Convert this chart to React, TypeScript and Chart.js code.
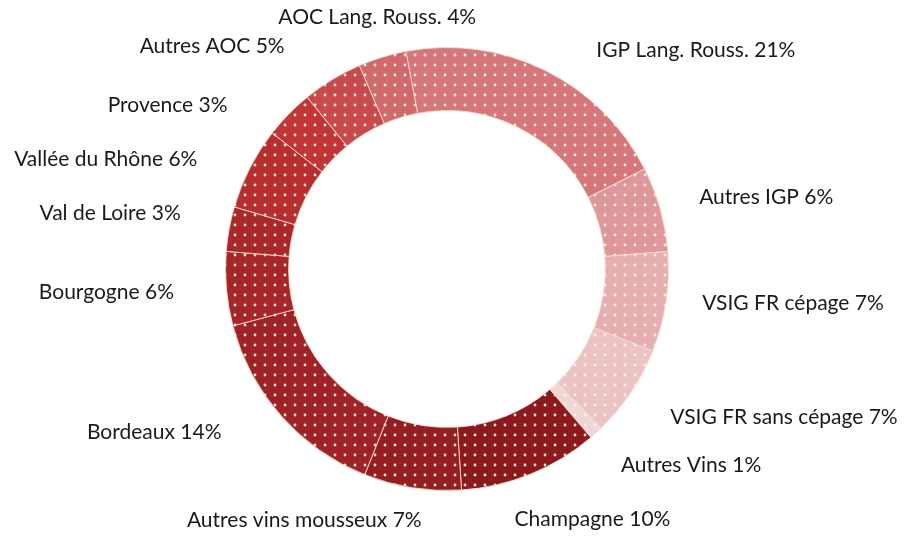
import React, { useEffect, useRef } from "react";
import { Chart, registerables } from "chart.js";

Chart.register(...registerables);

const categories = [
  "IGP Lang. Rouss.",
  "Autres IGP",
  "VSIG FR cépage",
  "VSIG FR sans cépage",
  "Autres Vins",
  "Champagne",
  "Autres vins mousseux",
  "Bordeaux",
  "Bourgogne",
  "Val de Loire",
  "Vallée du Rhône",
  "Provence",
  "Autres AOC",
  "AOC Lang. Rouss.",
];

// Shares as measured from the ring geometry
const shares = [20.5, 6.2, 7.3, 6.7, 1.0, 10.2, 7.1, 14.8, 5.4, 3.25, 6.0, 3.6, 4.4, 3.5];

// Percentages printed in the labels
const labelPercents = [21, 6, 7, 7, 1, 10, 7, 14, 6, 3, 6, 3, 5, 4];

const colors = [
  "#d6777c",
  "#de979b",
  "#e5aeb1",
  "#ebc3c5",
  "#f0d6d6",
  "#8c1a1c",
  "#951e20",
  "#9f2326",
  "#a72629",
  "#ab282a",
  "#b72e2f",
  "#c13536",
  "#c84a4c",
  "#d06a6e",
];

// label text centre offsets from the outer mid-point of each slice (px)
const labelOffsets: [number, number][] = [
  [151, -20],
  [106, -12],
  [127, 1],
  [153, 25],
  [95, 32],
  [62, 45],
  [-108, 32],
  [-127, 16],
  [-120, 3],
  [-119, -16],
  [-144, -9],
  [-121, -9],
  [-120, -33],
  [-5, -40],
];

function makePattern(color: string): CanvasPattern | string {
  const c = document.createElement("canvas");
  const s = 10;
  c.width = s;
  c.height = s;
  const g = c.getContext("2d");
  if (!g) return color;
  g.fillStyle = color;
  g.fillRect(0, 0, s, s);
  g.fillStyle = "rgba(255,246,225,0.95)";
  g.beginPath();
  g.arc(5, 5, 1.4, 0, Math.PI * 2);
  g.fill();
  const p = g.createPattern(c, "repeat");
  return p || color;
}

const labelPlugin = {
  id: "outerLabels",
  afterDraw(chart: any) {
    const ctx = chart.ctx;
    const meta = chart.getDatasetMeta(0);
    ctx.save();
    ctx.font = "21px Lato, 'Open Sans', sans-serif";
    ctx.fillStyle = "#1a1a1a";
    ctx.textAlign = "center";
    ctx.textBaseline = "middle";
    meta.data.forEach((arc: any, i: number) => {
      const p = arc.getProps(["x", "y", "startAngle", "endAngle", "outerRadius"], true);
      const mid = (p.startAngle + p.endAngle) / 2;
      const px = p.x + Math.cos(mid) * p.outerRadius + labelOffsets[i][0];
      const py = p.y + Math.sin(mid) * p.outerRadius + labelOffsets[i][1];
      ctx.fillText(`${categories[i]} ${labelPercents[i]}%`, px, py);
    });
    ctx.restore();
  },
};

export default function App() {
  const ref = useRef<HTMLCanvasElement | null>(null);
  useEffect(() => {
    document.body.style.margin = "0";
    const canvas = ref.current;
    if (!canvas) return;
    const chart = new Chart(canvas, {
      type: "doughnut",
      data: {
        labels: categories,
        datasets: [
          {
            data: shares,
            backgroundColor: colors.map(makePattern) as any,
            borderColor: "rgba(245,220,205,0.9)",
            borderWidth: 1,
            hoverOffset: 0,
          },
        ],
      },
      options: {
        animation: false,
        responsive: false,
        maintainAspectRatio: false,
        rotation: -10.7,
        cutout: "71.5%",
        layout: { padding: { top: 47, bottom: 45, left: 100, right: 115 } },
        plugins: {
          legend: { display: false },
          tooltip: { enabled: false },
        },
      },
      plugins: [labelPlugin],
    });
    return () => chart.destroy();
  }, []);
  return (
    <div style={{ width: 909, height: 536, background: "#fff" }}>
      <canvas ref={ref} width={909} height={536} style={{ display: "block" }} />
    </div>
  );
}
